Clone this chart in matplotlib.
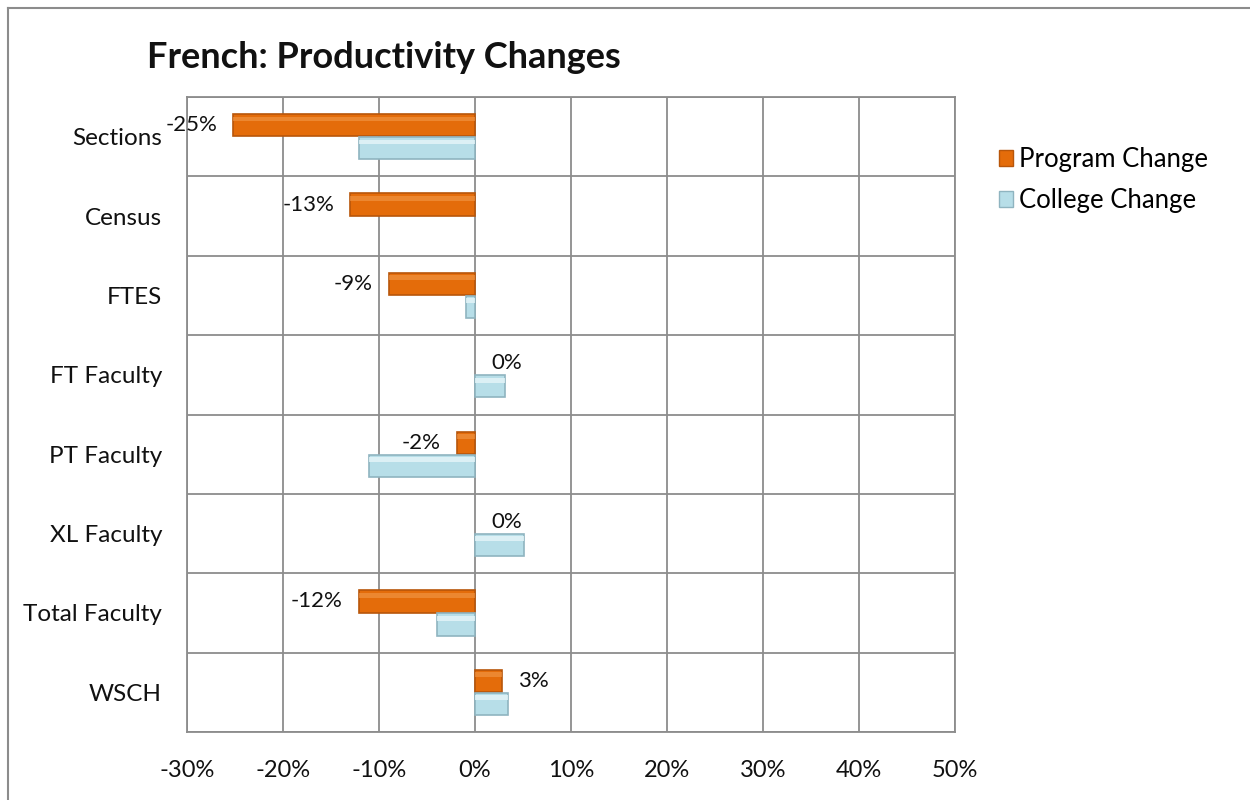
import matplotlib
matplotlib.use("Agg")
import matplotlib.pyplot as plt
from matplotlib.lines import Line2D
from matplotlib.patches import Patch
import numpy as np

categories = ["Sections", "Census", "FTES", "FT Faculty", "PT Faculty",
              "XL Faculty", "Total Faculty", "WSCH"]
program_change = [-25.2, -13.0, -9.0, 0.0, -1.9, 0.0, -12.1, 2.8]
college_change = [-12.1, 0.0, -0.9, 3.1, -11.0, 5.1, -4.0, 3.4]
program_labels = ["-25%", "-13%", "-9%", "0%", "-2%", "0%", "-12%", "3%"]
x_ticks = [-30, -20, -10, 0, 10, 20, 30, 40, 50]
x_tick_labels = ["-30%", "-20%", "-10%", "0%", "10%", "20%", "30%", "40%", "50%"]

plt.rcParams['font.family'] = ['Lato', 'DejaVu Sans']

fig = plt.figure(figsize=(12.5, 8), dpi=100)
ax = fig.add_axes([187/1250, 1-732/800, (955-187)/1250, (732-97)/800])

y = np.arange(len(categories))
h = 0.28
off = 0.145
orange = "#E46C0A"
orange_edge = "#B8560A"
blue = "#B7DEE8"
blue_edge = "#8FB4C0"

def edge_widths(vals):
    return [0 if v == 0 else 1.2 for v in vals]

ax.barh(y - off, program_change, height=h, color=orange, edgecolor=orange_edge,
        linewidth=edge_widths(program_change), zorder=3)
ax.barh(y + off, college_change, height=h, color=blue, edgecolor=blue_edge,
        linewidth=edge_widths(college_change), zorder=3)
# highlight strips for bevel look
ax.barh(y - off - h*0.28, program_change, height=h*0.22, color="#F39A4A",
        linewidth=0, zorder=4, alpha=0.6)
ax.barh(y + off - h*0.28, college_change, height=h*0.22, color="#E6F5F9",
        linewidth=0, zorder=4, alpha=0.8)

for yi, v, lab in zip(y, program_change, program_labels):
    if v < 0:
        ax.annotate(lab, (v, yi - off), xytext=(-11.5, 0), textcoords="offset points",
                    ha="right", va="center", fontsize=16, color="#111111", zorder=5)
    else:
        ax.annotate(lab, (v, yi - off), xytext=(11.5, 0), textcoords="offset points",
                    ha="left", va="center", fontsize=16, color="#111111", zorder=5)

ax.set_xlim(-30, 50)
ax.set_ylim(len(categories) - 0.5, -0.5)
ax.set_xticks(x_ticks)
ax.set_xticklabels(x_tick_labels, fontsize=17, color="#111111")
ax.set_yticks(y)
ax.set_yticklabels(categories, fontsize=17.5, color="#111111")
ax.set_yticks(np.arange(len(categories) + 1) - 0.5, minor=True)
ax.grid(True, which="minor", axis="y", color="#8C8C8C", linewidth=1.3, zorder=0)
ax.grid(True, which="major", axis="x", color="#8C8C8C", linewidth=1.3, zorder=0)
ax.tick_params(axis="both", which="both", length=0)
ax.tick_params(axis="x", pad=20)
ax.tick_params(axis="y", pad=18)
for s in ax.spines.values():
    s.set_color("#8C8C8C")
    s.set_linewidth(1.3)

fig.text(147/1250, 1-57/800, "French: Productivity Changes", fontsize=26,
         fontweight="bold", ha="left", va="center", color="#111111")

handles = [Patch(facecolor=orange, edgecolor=orange_edge),
           Patch(facecolor=blue, edgecolor=blue_edge)]
fig.legend(handles, ["Program Change", "College Change"], loc="upper left",
           bbox_to_anchor=(989/1250, 1-137/800), frameon=False, fontsize=18.5,
           handlelength=0.55, handleheight=0.55, handletextpad=0.2,
           labelspacing=0.62, borderaxespad=0)

# outer chart border
fig.add_artist(Line2D([8/1250, 1.0], [1-8/800, 1-8/800], color="#8C8C8C", linewidth=1.5))
fig.add_artist(Line2D([8/1250, 8/1250], [0, 1-8/800], color="#8C8C8C", linewidth=1.5))

fig.savefig("out.png", dpi=100)
